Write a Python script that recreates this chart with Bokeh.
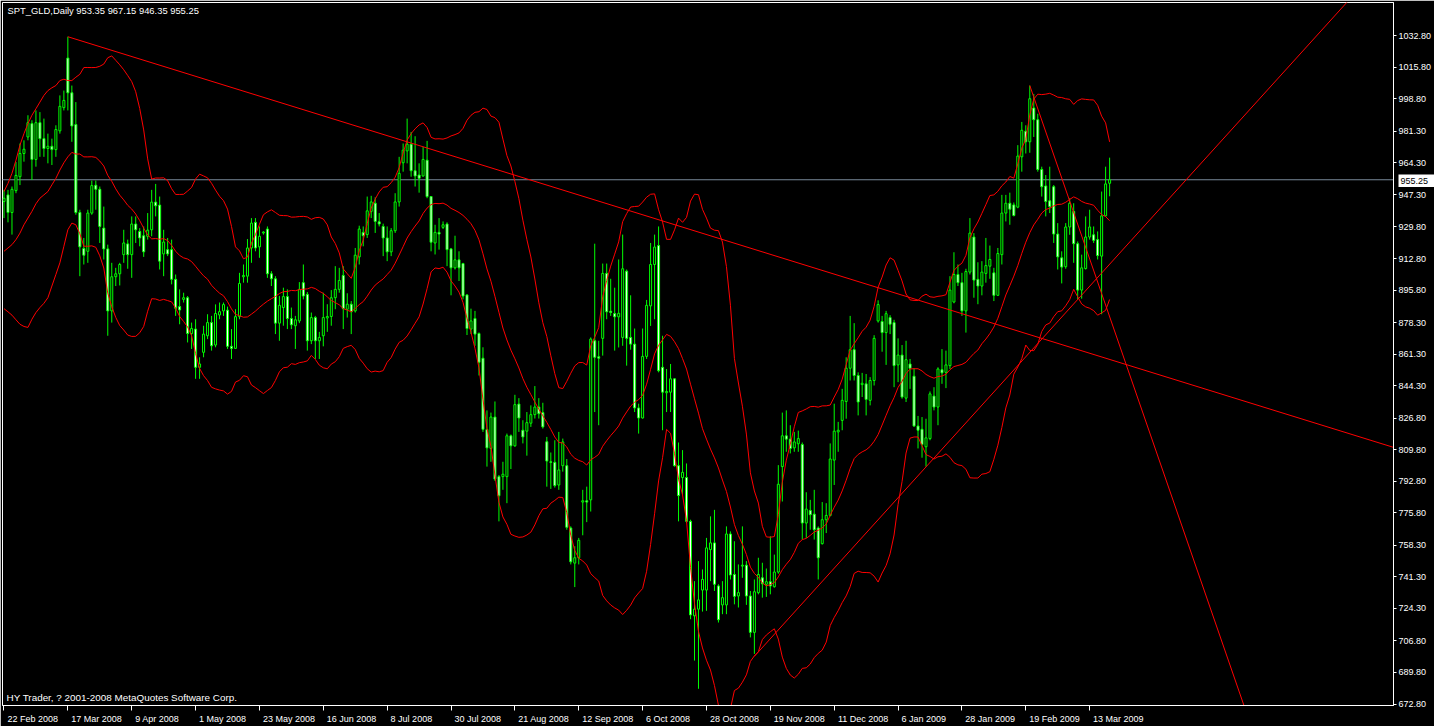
import numpy as np
from bokeh.plotting import figure
from bokeh.models import FixedTicker, PrintfTickFormatter, Label, Range1d, ColumnDataSource
from bokeh.core.properties import value
from bokeh.embed import file_html
from bokeh.resources import INLINE

title_text = "SPT_GLD,Daily  953.35 967.15 946.35 955.25"
copyright_text = "HY Trader, ? 2001-2008 MetaQuotes Software Corp."

date_labels = ["22 Feb 2008", "17 Mar 2008", "9 Apr 2008", "1 May 2008", "23 May 2008",
               "16 Jun 2008", "8 Jul 2008", "30 Jul 2008", "21 Aug 2008", "12 Sep 2008",
               "6 Oct 2008", "28 Oct 2008", "19 Nov 2008", "11 Dec 2008", "6 Jan 2009",
               "28 Jan 2009", "19 Feb 2009", "13 Mar 2009"]
date_label_bars = [0, 16, 32, 48, 64, 80, 96, 112, 128, 144, 160, 176, 192, 208, 224, 240, 256, 272]

price_ticks = [1032.80, 1015.80, 998.80, 981.30, 964.30, 947.30, 929.80, 912.80, 895.80,
               878.30, 861.30, 844.30, 826.80, 809.80, 792.80, 775.80, 758.30, 741.30,
               724.30, 706.80, 689.80, 672.80]

open_ = [943.5, 947.1, 937.6, 949.4, 956.9, 969.4, 978.3, 985.5, 966.2, 986.0,
         977.4, 972.1, 973.3, 971.5, 981.6, 994.1, 1020.8, 1002.1, 985.0, 937.6,
         918.2, 916.7, 937.3, 952.3, 950.1, 929.2, 918.0, 884.6, 903.0, 904.6,
         914.9, 920.7, 914.9, 931.4, 927.4, 925.1, 924.8, 928.3, 943.2, 941.6,
         915.3, 917.6, 917.6, 901.6, 886.9, 890.8, 891.7, 872.4, 874.8, 854.2,
         862.3, 871.2, 878.3, 866.2, 882.4, 884.6, 885.0, 865.5, 864.4, 881.5,
         903.0, 903.3, 918.5, 932.3, 919.1, 926.6, 928.7, 904.6, 901.9, 878.0,
         886.4, 892.3, 880.5, 876.6, 879.2, 899.8, 893.5, 868.5, 881.0, 868.5,
         871.2, 880.8, 881.6, 891.7, 896.2, 903.7, 885.5, 888.2, 884.6, 913.7,
         926.9, 925.7, 938.2, 942.6, 932.6, 930.1, 923.9, 916.4, 927.8, 943.3,
         964.4, 970.8, 974.4, 960.1, 957.8, 957.3, 965.8, 946.2, 921.2, 926.9,
         929.6, 931.4, 918.0, 907.8, 912.1, 910.1, 893.2, 874.8, 880.5, 872.4,
         859.1, 820.7, 810.5, 827.4, 795.3, 795.3, 795.3, 817.3, 811.9, 834.4,
         820.3, 819.8, 824.1, 828.7, 832.8, 829.8, 814.1, 803.3, 803.0, 790.8,
         801.2, 801.2, 767.6, 748.7, 751.6, 781.6, 782.3, 782.8, 868.5, 859.9,
         869.8, 904.8, 884.4, 883.2, 881.4, 870.3, 906.0, 870.3, 866.7, 832.3,
         826.9, 860.1, 887.3, 909.6, 919.8, 854.2, 840.5, 840.8, 848.0, 801.2,
         794.8, 794.8, 771.2, 720.3, 723.9, 734.2, 734.2, 756.0, 759.6, 736.4,
         726.2, 726.2, 764.4, 742.6, 731.0, 747.1, 747.6, 731.0, 711.4, 732.8,
         740.8, 737.3, 738.7, 736.0, 743.9, 800.7, 817.3, 815.5, 810.8, 813.0,
         812.6, 770.3, 777.1, 775.1, 767.6, 759.2, 772.1, 774.4, 804.2, 819.4,
         825.6, 835.8, 853.7, 863.7, 849.8, 844.9, 845.3, 836.4, 847.1, 879.2,
         878.9, 872.9, 881.0, 878.3, 855.5, 860.8, 837.6, 856.0, 849.4, 822.6,
         820.8, 811.4, 815.8, 838.7, 832.8, 852.9, 851.5, 855.1, 889.4, 904.2,
         899.8, 884.6, 905.5, 924.4, 901.6, 898.0, 904.8, 908.7, 905.1, 893.0,
         914.9, 937.3, 942.6, 941.7, 940.5, 967.6, 981.4, 975.7, 993.9, 987.6,
         960.8, 951.9, 943.9, 951.5, 926.0, 913.2, 908.4, 929.8, 938.2, 920.8,
         895.8, 907.4, 924.4, 925.6, 923.0, 914.1, 935.8, 953.35]
high = [949.8, 949.8, 951.6, 964.8, 974.8, 976.5, 990.0, 987.3, 992.6, 991.7,
        988.2, 980.1, 977.4, 984.6, 1000.7, 1003.3, 1032.3, 1006.0, 997.1, 939.1,
        923.9, 939.1, 954.8, 954.8, 951.6, 940.8, 920.3, 910.5, 907.8, 910.5,
        928.3, 923.0, 935.5, 935.5, 929.2, 930.1, 937.3, 949.8, 953.0, 946.2,
        928.3, 923.9, 923.0, 904.2, 896.2, 894.4, 892.6, 878.3, 880.1, 859.6,
        876.6, 882.8, 881.9, 888.1, 889.1, 889.1, 886.9, 874.8, 885.5, 905.1,
        909.6, 923.3, 934.6, 934.6, 930.1, 927.5, 930.1, 906.0, 903.3, 892.6,
        897.1, 896.2, 886.4, 881.9, 900.1, 909.6, 894.8, 883.7, 881.9, 873.3,
        894.4, 888.2, 895.8, 908.7, 907.8, 908.7, 894.1, 889.9, 918.5, 930.5,
        930.1, 946.2, 946.6, 945.8, 937.3, 931.6, 930.1, 929.2, 948.0, 967.6,
        974.8, 988.2, 981.0, 978.7, 964.1, 973.0, 976.2, 946.2, 931.0, 934.6,
        932.8, 932.3, 918.5, 925.1, 916.7, 910.5, 893.5, 885.8, 884.6, 873.0,
        865.0, 831.0, 829.8, 835.8, 796.2, 803.3, 818.5, 818.0, 839.4, 837.6,
        825.7, 830.1, 833.7, 844.1, 837.6, 835.1, 816.7, 808.3, 814.9, 819.4,
        815.8, 804.8, 768.5, 757.8, 762.3, 788.2, 789.9, 870.3, 920.8, 868.5,
        910.1, 910.1, 901.9, 897.1, 912.3, 925.7, 906.9, 893.0, 875.1, 834.6,
        875.1, 890.5, 921.2, 925.7, 930.1, 871.2, 853.3, 856.0, 848.3, 813.7,
        809.6, 802.4, 772.1, 739.0, 749.8, 745.3, 762.3, 773.9, 777.4, 737.3,
        739.0, 768.5, 765.8, 760.5, 748.0, 768.5, 749.8, 733.7, 739.9, 751.6,
        748.9, 745.8, 763.2, 753.3, 801.5, 829.8, 831.0, 823.0, 819.4, 820.1,
        813.7, 786.9, 782.8, 788.2, 768.5, 781.6, 781.0, 813.2, 834.6, 824.8,
        842.6, 859.6, 881.9, 878.0, 851.5, 851.2, 850.6, 848.9, 871.5, 890.3,
        881.9, 884.6, 882.3, 879.8, 869.8, 866.2, 868.5, 858.7, 853.7, 828.0,
        827.4, 826.5, 841.2, 843.5, 854.2, 864.0, 863.2, 903.3, 916.2, 909.6,
        905.1, 907.3, 934.6, 926.5, 910.8, 911.4, 923.9, 919.8, 907.8, 918.5,
        947.1, 947.1, 948.3, 943.0, 973.9, 986.4, 984.6, 1006.0, 1001.5, 990.8,
        962.3, 957.8, 962.3, 952.4, 931.9, 916.7, 931.9, 945.3, 942.6, 922.0,
        914.9, 935.5, 939.1, 930.1, 927.4, 948.9, 962.3, 967.15]
low = [934.6, 932.3, 925.7, 948.0, 952.4, 965.0, 976.5, 955.1, 962.3, 967.6,
       967.6, 964.1, 963.2, 967.6, 980.1, 992.6, 992.6, 975.7, 936.4, 903.3,
       909.6, 910.5, 936.4, 939.1, 921.2, 912.3, 871.2, 878.3, 898.0, 898.3,
       910.5, 907.3, 902.4, 921.2, 919.4, 913.7, 923.0, 924.8, 935.5, 906.9,
       903.3, 914.1, 898.9, 881.9, 877.4, 889.1, 867.6, 864.1, 848.0, 848.0,
       859.6, 869.4, 863.2, 865.0, 880.1, 881.9, 864.1, 858.7, 864.1, 880.1,
       899.8, 899.8, 910.5, 916.7, 913.2, 925.7, 902.4, 898.0, 872.1, 868.5,
       876.6, 874.8, 874.8, 864.1, 878.0, 890.8, 863.2, 866.7, 858.7, 858.7,
       865.5, 873.3, 876.6, 885.5, 894.4, 874.8, 881.0, 872.1, 883.7, 909.6,
       919.4, 923.9, 934.6, 926.6, 930.1, 914.1, 911.4, 914.1, 926.6, 940.8,
       959.6, 964.1, 956.9, 951.6, 948.3, 956.9, 945.3, 916.7, 915.0, 917.6,
       928.7, 908.7, 893.0, 906.9, 900.7, 890.8, 871.6, 872.1, 865.8, 849.8,
       819.4, 800.7, 803.3, 793.0, 771.2, 788.2, 781.0, 799.4, 811.4, 819.4,
       813.2, 806.6, 822.1, 826.6, 826.6, 821.2, 789.9, 788.7, 789.4, 788.2,
       798.0, 766.7, 748.0, 735.8, 748.0, 763.7, 770.8, 776.5, 830.1, 823.0,
       860.5, 880.1, 881.9, 863.2, 864.9, 865.8, 855.1, 863.7, 830.1, 818.5,
       826.6, 858.7, 876.5, 880.1, 851.5, 820.3, 830.1, 830.1, 800.7, 771.2,
       785.5, 770.3, 718.5, 696.2, 681.0, 722.6, 723.0, 739.0, 733.7, 716.7,
       721.2, 721.2, 739.9, 726.5, 724.8, 740.8, 726.2, 708.7, 699.8, 731.9,
       730.1, 730.5, 731.9, 735.5, 743.0, 781.9, 808.7, 807.8, 808.7, 808.7,
       761.4, 762.3, 766.7, 761.4, 739.9, 758.7, 764.9, 773.9, 790.8, 808.7,
       820.3, 826.5, 847.1, 847.1, 828.3, 838.2, 828.3, 833.7, 844.4, 878.3,
       862.6, 855.5, 872.1, 843.5, 846.2, 837.3, 835.5, 842.6, 822.1, 810.5,
       805.5, 800.7, 814.9, 831.0, 823.0, 845.3, 843.0, 853.3, 888.7, 898.0,
       881.9, 872.9, 904.2, 891.7, 888.2, 893.0, 899.8, 901.9, 889.9, 892.6,
       909.6, 932.8, 931.0, 935.5, 939.9, 959.6, 969.4, 969.8, 978.3, 959.6,
       946.2, 935.5, 937.3, 921.2, 906.9, 899.4, 907.3, 925.6, 910.5, 890.8,
       891.2, 906.9, 923.0, 921.2, 912.3, 882.8, 935.5, 946.35]
close = [945.3, 937.6, 950.1, 957.6, 969.4, 971.7, 986.0, 966.2, 986.0, 977.4,
         972.1, 973.3, 971.5, 982.3, 994.8, 998.0, 1002.1, 984.2, 937.6, 919.1,
         914.6, 937.3, 952.1, 950.1, 930.1, 918.0, 884.6, 903.0, 904.6, 909.6,
         921.2, 914.9, 931.4, 928.3, 923.9, 916.4, 928.1, 943.2, 941.2, 911.4,
         921.7, 915.3, 901.6, 886.0, 885.1, 891.7, 872.4, 875.1, 854.2, 856.0,
         872.1, 878.3, 865.8, 883.2, 884.2, 888.0, 865.5, 864.4, 881.5, 899.4,
         903.7, 918.5, 931.9, 918.5, 924.8, 927.1, 904.6, 901.9, 878.0, 887.6,
         892.3, 880.5, 877.1, 879.8, 896.2, 892.6, 868.5, 881.0, 868.5, 870.3,
         881.0, 881.6, 891.7, 896.2, 901.0, 885.8, 888.2, 884.1, 914.6, 928.7,
         925.1, 938.5, 943.3, 932.8, 931.4, 923.9, 916.4, 927.8, 943.3, 958.7,
         971.2, 974.4, 960.1, 957.3, 956.0, 966.2, 946.2, 921.6, 926.9, 926.0,
         931.0, 917.6, 907.8, 912.1, 907.8, 892.6, 875.1, 879.2, 872.1, 856.9,
         820.8, 810.8, 827.4, 794.0, 785.0, 796.6, 817.3, 811.9, 834.1, 826.9,
         816.7, 824.4, 828.7, 832.8, 829.2, 822.1, 803.7, 803.0, 790.5, 798.9,
         814.0, 768.0, 749.4, 751.6, 761.0, 782.3, 781.6, 869.4, 859.6, 859.1,
         904.8, 884.1, 883.7, 881.4, 883.3, 907.3, 869.8, 866.7, 832.3, 826.9,
         860.1, 887.6, 909.6, 919.0, 852.4, 840.8, 841.2, 848.0, 801.2, 785.1,
         797.6, 771.2, 720.8, 723.9, 728.9, 739.9, 756.9, 759.6, 737.3, 718.2,
         730.1, 764.4, 742.3, 730.8, 732.8, 747.6, 731.0, 711.4, 733.3, 742.6,
         737.6, 738.7, 736.4, 743.9, 791.2, 817.3, 815.5, 810.5, 814.0, 815.8,
         770.3, 777.8, 774.8, 766.7, 751.6, 772.1, 774.4, 804.8, 819.8, 820.3,
         836.4, 853.7, 863.7, 849.8, 835.5, 845.6, 836.9, 847.1, 869.8, 888.0,
         872.9, 883.1, 877.4, 855.1, 860.8, 838.2, 858.3, 853.7, 822.6, 820.3,
         812.6, 816.2, 839.9, 832.8, 853.3, 851.2, 855.5, 895.8, 904.2, 899.8,
         884.6, 905.8, 926.5, 901.2, 898.0, 905.5, 909.0, 912.3, 893.0, 915.5,
         937.3, 942.6, 939.4, 936.0, 968.0, 981.9, 975.7, 998.9, 987.6, 960.8,
         951.5, 943.5, 940.8, 926.0, 913.7, 908.2, 929.8, 942.6, 920.8, 895.8,
         907.8, 924.4, 929.8, 922.6, 914.4, 935.8, 953.0, 955.25]

# Bollinger Bands (20, 2) for the first 19 bars
bb_upper_head = [948.9, 953.3, 958.7, 965.8, 973.9, 980.1, 985.5, 990.0, 993.5, 997.1,
                 1000.7, 1003.3, 1004.8, 1006.0, 1008.7, 1009.4, 1008.7, 1008.7, 1010.5]
bb_mid_head = [916.7, 918.5, 920.3, 923.0, 926.5, 931.0, 934.6, 938.2, 942.3, 945.3,
               947.1, 948.9, 952.5, 956.0, 960.5, 964.4, 967.6, 970.0, 969.1]
bb_lower_head = [885.8, 884.1, 882.3, 879.8, 877.4, 876.2, 875.7, 880.1, 883.7, 886.4,
                 888.7, 891.7, 898.0, 904.2, 910.5, 919.4, 928.3, 931.9, 931.0]
bb_period = 20
bb_dev = 2.0

bid_price = 955.25

# trend lines: (bar, price) anchor pairs
trend1_bars, trend1_prices = [16, 348.25], [1032.3, 811.0]
trend2_bars, trend2_prices = [188, 336.75], [698.5, 1051.55]
trend3_bars, trend3_prices = [257, 310.95], [1006.0, 670.2]

# ---------------------------------------------------------------------------
n = len(close)
idx = np.arange(n)
c = np.array(close)
upper = np.empty(n); mid = np.empty(n); lower = np.empty(n)
k = len(bb_mid_head)
upper[:k] = bb_upper_head; mid[:k] = bb_mid_head; lower[:k] = bb_lower_head
for i in range(k, n):
    w = c[i - bb_period + 1:i + 1]
    m = w.mean(); s = w.std()
    mid[i] = m; upper[i] = m + bb_dev * s; lower[i] = m - bb_dev * s

o = np.array(open_)
bull = c >= o
src = ColumnDataSource(dict(
    x=idx, high=high, low=low,
    top=np.maximum(o, c), bottom=np.minimum(o, c),
    fill=["black" if b else "white" for b in bull],
))

FONT = "Liberation Sans"
FS = "9px"
GREEN = "#00FF00"
RED = "#FF0000"

p = figure(width=1434, height=726, output_backend="svg", toolbar_location=None,
           x_range=Range1d(-0.375, 348.125), y_range=Range1d(672.0, 1050.75),
           y_axis_location="right",
           min_border_left=2, min_border_top=2, min_border_right=38, min_border_bottom=17,
           background_fill_color="black", border_fill_color="black",
           outline_line_color="white", outline_line_width=1)
p.grid.visible = False

# bid line
p.line([-10, 400], [bid_price, bid_price], line_color="#778899", line_width=1)

# candles
p.segment(x0="x", y0="high", x1="x", y1="low", source=src, line_color=GREEN, line_width=1)
p.vbar(x="x", width=0.5, top="top", bottom="bottom", source=src,
       fill_color="fill", line_color=GREEN, line_width=1)

# bollinger bands
for band in (upper, mid, lower):
    p.line(idx, band, line_color=RED, line_width=1)

# trend lines
for bx, py in ((trend1_bars, trend1_prices), (trend2_bars, trend2_prices), (trend3_bars, trend3_prices)):
    p.line(bx, py, line_color=RED, line_width=1)

# y axis (right)
ya = p.yaxis[0]
ya.ticker = FixedTicker(ticks=price_ticks)
ya.formatter = PrintfTickFormatter(format="%.2f")
ya.major_label_text_color = "white"
ya.major_label_text_font = FONT
ya.major_label_text_font_size = FS
ya.axis_line_color = "white"
ya.major_tick_line_color = "white"
ya.major_tick_out = 3
ya.major_tick_in = 0
ya.minor_tick_line_color = None
ya.major_label_standoff = 2

# x axis: left-aligned labels next to the tick marks
cw = {" ": 278, "A": 667, "D": 722, "F": 611, "J": 500, "M": 833, "N": 722, "O": 778,
      "S": 667, "a": 556, "b": 556, "c": 500, "e": 556, "g": 556, "l": 222, "n": 556,
      "o": 556, "p": 556, "r": 333, "t": 278, "u": 556, "v": 500, "y": 500}
def text_w(s, size=9.0):
    return sum(cw.get(ch, 556) for ch in s) / 1000.0 * size
label_pos = [round(b + (3.5 + text_w(s) / 2) / 4, 4) for b, s in zip(date_label_bars, date_labels)]
xa = p.xaxis[0]
xa.ticker = FixedTicker(ticks=label_pos, minor_ticks=date_label_bars)
xa.major_label_overrides = {pos: s for pos, s in zip(label_pos, date_labels)}
xa.major_label_text_color = "white"
xa.major_label_text_font = FONT
xa.major_label_text_font_size = FS
xa.axis_line_color = "white"
xa.major_tick_line_color = None
xa.major_tick_out = 0
xa.major_tick_in = 0
xa.minor_tick_line_color = "white"
xa.minor_tick_out = 5
xa.minor_tick_in = 0
xa.major_label_standoff = 3

# texts
p.add_layout(Label(x=0.9, y=1046.2, text=title_text, text_color="white", text_font=FONT,
                   text_font_size="9.4px", text_baseline="middle", text_align="left"))
p.add_layout(Label(x=0.65, y=676.3, text=copyright_text, text_color="white", text_font=FONT,
                   text_font_size="9.9px", text_baseline="middle", text_align="left"))

# current bid price box on the price scale (small overlay figure)
box = figure(width=36, height=13, output_backend="svg", toolbar_location=None,
             x_range=Range1d(0, 36), y_range=Range1d(0, 13),
             x_axis_location=None, y_axis_location=None,
             min_border=0, background_fill_color="white", border_fill_color="white",
             outline_line_color=None)
box.grid.visible = False
box.text(x=[2], y=[6.5], text=[f"{bid_price:.2f}"], text_color="black",
         text_font=value(FONT), text_font_size=value(FS),
         text_baseline="middle", text_align="left")
box.styles = {"position": "absolute", "left": "1398px", "top": "174px", "z-index": "5"}

open("out.html", "w").write(file_html([p, box], INLINE))
